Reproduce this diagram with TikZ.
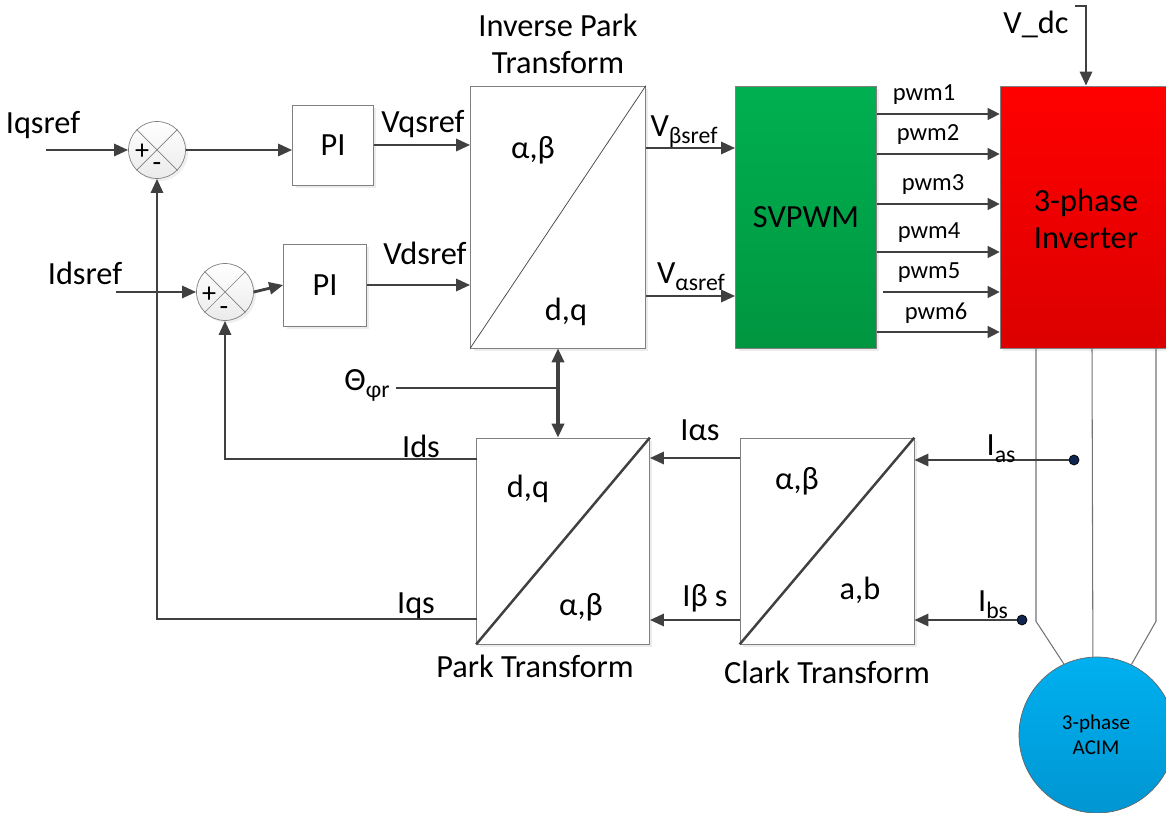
\documentclass[tikz,border=0pt]{standalone}
\usepackage{fontspec}
\setmainfont{Carlito}
\usetikzlibrary{arrows.meta,shadows}
\definecolor{linegray}{HTML}{404040}
\definecolor{boxgray}{HTML}{808080}
\definecolor{svtop}{HTML}{00B050}
\definecolor{svbot}{HTML}{009640}
\definecolor{invtop}{HTML}{FF0000}
\definecolor{invbot}{HTML}{DC0000}
\definecolor{motortop}{HTML}{00B0F0}
\definecolor{motorbot}{HTML}{0096D2}
\definecolor{dotblue}{HTML}{0F2550}
\newcommand{\lowtext}[1]{\raisebox{-0.45ex}{\fontsize{13.5}{15}\selectfont #1}}

\begin{document}
\begin{tikzpicture}[x=0.02cm,y=-0.02cm,
    every node/.style={font=\fontsize{18.4}{21}\selectfont, inner sep=0pt},
    blok/.style={draw=boxgray, fill=white, thin,
        drop shadow={shadow xshift=0.06cm, shadow yshift=-0.06cm, fill=black!15}},
    tong/.style={circle, draw=boxgray, thin, minimum size=1.14cm,
        top color=white, bottom color=black!8,
        drop shadow={shadow xshift=0.05cm, shadow yshift=-0.05cm, fill=black!12}},
    sig/.style={draw=linegray, line width=1.6pt,
        -{Triangle[length=0.28cm,width=0.24cm]}},
    thickline/.style={draw=linegray, line width=1.6pt},
    pwmsig/.style={draw=black!75, line width=0.7pt,
        -{Triangle[length=0.24cm,width=0.24cm]}},
    pwmtxt/.style={font=\fontsize{14}{16}\selectfont},
    sign/.style={font=\fontsize{16}{18}\selectfont},
    wire/.style={draw=black!55, line width=0.6pt},
    diag/.style={draw=linegray, line width=1.4pt}]
  \useasboundingbox (0,0) rectangle (1166,813);
  \clip (0,0) rectangle (1166,813);

  %Bo tong
  \node[tong] (sum1) at (157,150) {};
  \node[tong] (sum2) at (225,292) {};
  \foreach \s in {sum1,sum2} {
    \draw[boxgray, thin] (\s.north west) -- (\s.south east);
    \draw[boxgray, thin] (\s.north east) -- (\s.south west);
  }
  \node[sign] (p1) at (142,152) {+};
  \node[sign] (m1) at (157,167) {-};
  \node[sign] (p2) at (209,295) {+};
  \node[sign] (m2) at (224,311) {-};

  %PI
  \node[blok, minimum width=1.62cm, minimum height=1.6cm] (pi1) at (333,145) {PI};
  \node[blok, minimum width=1.66cm, minimum height=1.64cm] (pi2) at (325,285) {PI};

  %Inverse Park
  \node[blok, minimum width=3.5cm, minimum height=5.24cm] (ipark) at (558,217) {};
  \draw[linegray, thin] (ipark.south west) -- (ipark.north east);
  \node (ipab) at (533,150) {α,β};
  \node (ipdq) at (566,312) {d,q};
  \node[align=center] (iptitle) at (558,44) {Inverse Park\\Transform};

  %SVPWM
  \node[draw=boxgray, thin, top color=svtop, bottom color=svbot,
        minimum width=2.82cm, minimum height=5.24cm,
        drop shadow={shadow xshift=0.06cm, shadow yshift=-0.06cm, fill=black!15}]
        (svpwm) at (806,217) {SVPWM};

  %Inverter
  \node[draw=boxgray, thin, top color=invtop, bottom color=invbot,
        minimum width=3.44cm, minimum height=5.24cm,
        drop shadow={shadow xshift=0.06cm, shadow yshift=-0.06cm, fill=black!15}]
        (inv) at (1086,217) {};
  \node[align=center] (invtxt) at (1086,219) {3-phase\\Inverter};

  %Park
  \node[blok, minimum width=3.46cm, minimum height=4.12cm] (park) at (563,541) {};
  \draw[diag] (park.south west) -- (park.north east);
  \node (pdq) at (528,489) {d,q};
  \node (pab) at (581,607) {α,β};
  \node (ptitle) at (535,666) {Park Transform};

  %Clark
  \node[blok, minimum width=3.48cm, minimum height=4.12cm] (clark) at (827,541) {};
  \draw[diag] (clark.south west) -- (clark.north east);
  \node (cab) at (797,481) {α,β};
  \node (cabc) at (860,590) {a,b};
  \node (ctitle) at (827,672) {Clark Transform};

  %Motor
  \node[circle, draw=black!60, thin, top color=motortop, bottom color=motorbot,
        minimum size=3.12cm] (motor) at (1097,735) {};
  \node[align=center, font=\fontsize{12}{14}\selectfont] (motortxt) at (1096,735) {3-phase\\ACIM};
  \draw[wire] (inv.south) ++(-50,0) -- ++(0,273) -- (motor.115);
  \draw[wire] (inv.south) ++(6,0) -- (motor.93);
  \draw[wire] (inv.south) ++(70,0) -- ++(0,273) -- (motor.64);

  %Dong tham chieu
  \coordinate (iqin) at (46,150);
  \coordinate (idin) at (116,292);
  \draw[sig] (iqin) -- (sum1.west);
  \draw[sig] (idin) -- (sum2.west);
  \node (liq) at (43,125) {Iqsref};
  \node (lid) at (85,273) {Idsref};
  \draw[sig] (sum1.east) -- (sum1.east -| pi1.west);
  \draw[sig] (sum2.east) -- (pi2.west);

  %Vqsref, Vdsref
  \draw[sig] (pi1.east) -- (pi1.east -| ipark.west);
  \draw[sig] (pi2.east) -- (pi2.east -| ipark.west);
  \node (lvq) at (423,124) {Vqsref};
  \node (lvd) at (425,253) {Vdsref};

  %V_beta, V_alpha
  \coordinate (vb) at (646,148);
  \coordinate (va) at (646,296);
  \draw[sig] (vb) -- (vb -| svpwm.west);
  \draw[sig] (va) -- (va -| svpwm.west);
  \node (lvb) at (684,132) {V\lowtext{βsref}};
  \node (lva) at (691,277) {V\lowtext{αsref}};

  %pwm
  \foreach \yy/\lbl/\lx/\sx [count=\i] in {114/pwm1/924/877,154/pwm2/928/877,
      204/pwm3/933/877,252/pwm4/929/877,292/pwm5/929/883,332/pwm6/936/877} {
    \coordinate (pw\i) at (\sx,\yy);
    \draw[pwmsig] (pw\i) -- (pw\i -| inv.west);
    \node[pwmtxt] (lpw\i) at (\lx,\yy-19) {\lbl};
  }

  %V_dc
  \coordinate (vdc) at (1075,6);
  \draw[sig] (vdc) -| (inv.north);
  \node (lvdc) at (1036,24) {V\_dc};

  %Goc theta
  \coordinate (th) at (396,388);
  \draw[thickline] (th) -- (th -| ipark.south);
  \draw[thickline, line width=1.9pt, {Triangle[length=0.28cm,width=0.24cm]}-{Triangle[length=0.28cm,width=0.24cm]}]
       (ipark.south) -- (ipark.south |- park.north);
  \node (lth) at (367,385) {Θ\lowtext{φr}};

  %Hoi tiep Ids, Iqs
  \coordinate (ids) at (477,459);
  \coordinate (iqs) at (477,619);
  \draw[sig] (ids) -| (sum2.south);
  \draw[sig] (iqs) -| (sum1.south);
  \node (lids) at (421,446) {Ids};
  \node (liqs) at (416,606) {Iqs};

  %I alpha, I beta
  \coordinate (ia) at (740,458);
  \coordinate (ib) at (740,620);
  \draw[sig] (ia) -- (ia -| park.east);
  \draw[sig] (ib) -- (ib -| park.east);
  \node (lia) at (700,430) {Iαs};
  \node (lib) at (705,598) {Iβ s};

  %Dong pha
  \node[circle, fill=dotblue, draw=black, minimum size=0.2cm] (pa) at (1074,460) {};
  \node[circle, fill=dotblue, draw=black, minimum size=0.2cm] (pb) at (1022,620) {};
  \draw[sig] (pa) -- (pa -| clark.east);
  \draw[sig] (pb) -- (pb -| clark.east);
  \node (lias) at (1001,449) {I\lowtext{as}};
  \node (libs) at (993,605) {I\lowtext{bs}};
\end{tikzpicture}
\end{document}
